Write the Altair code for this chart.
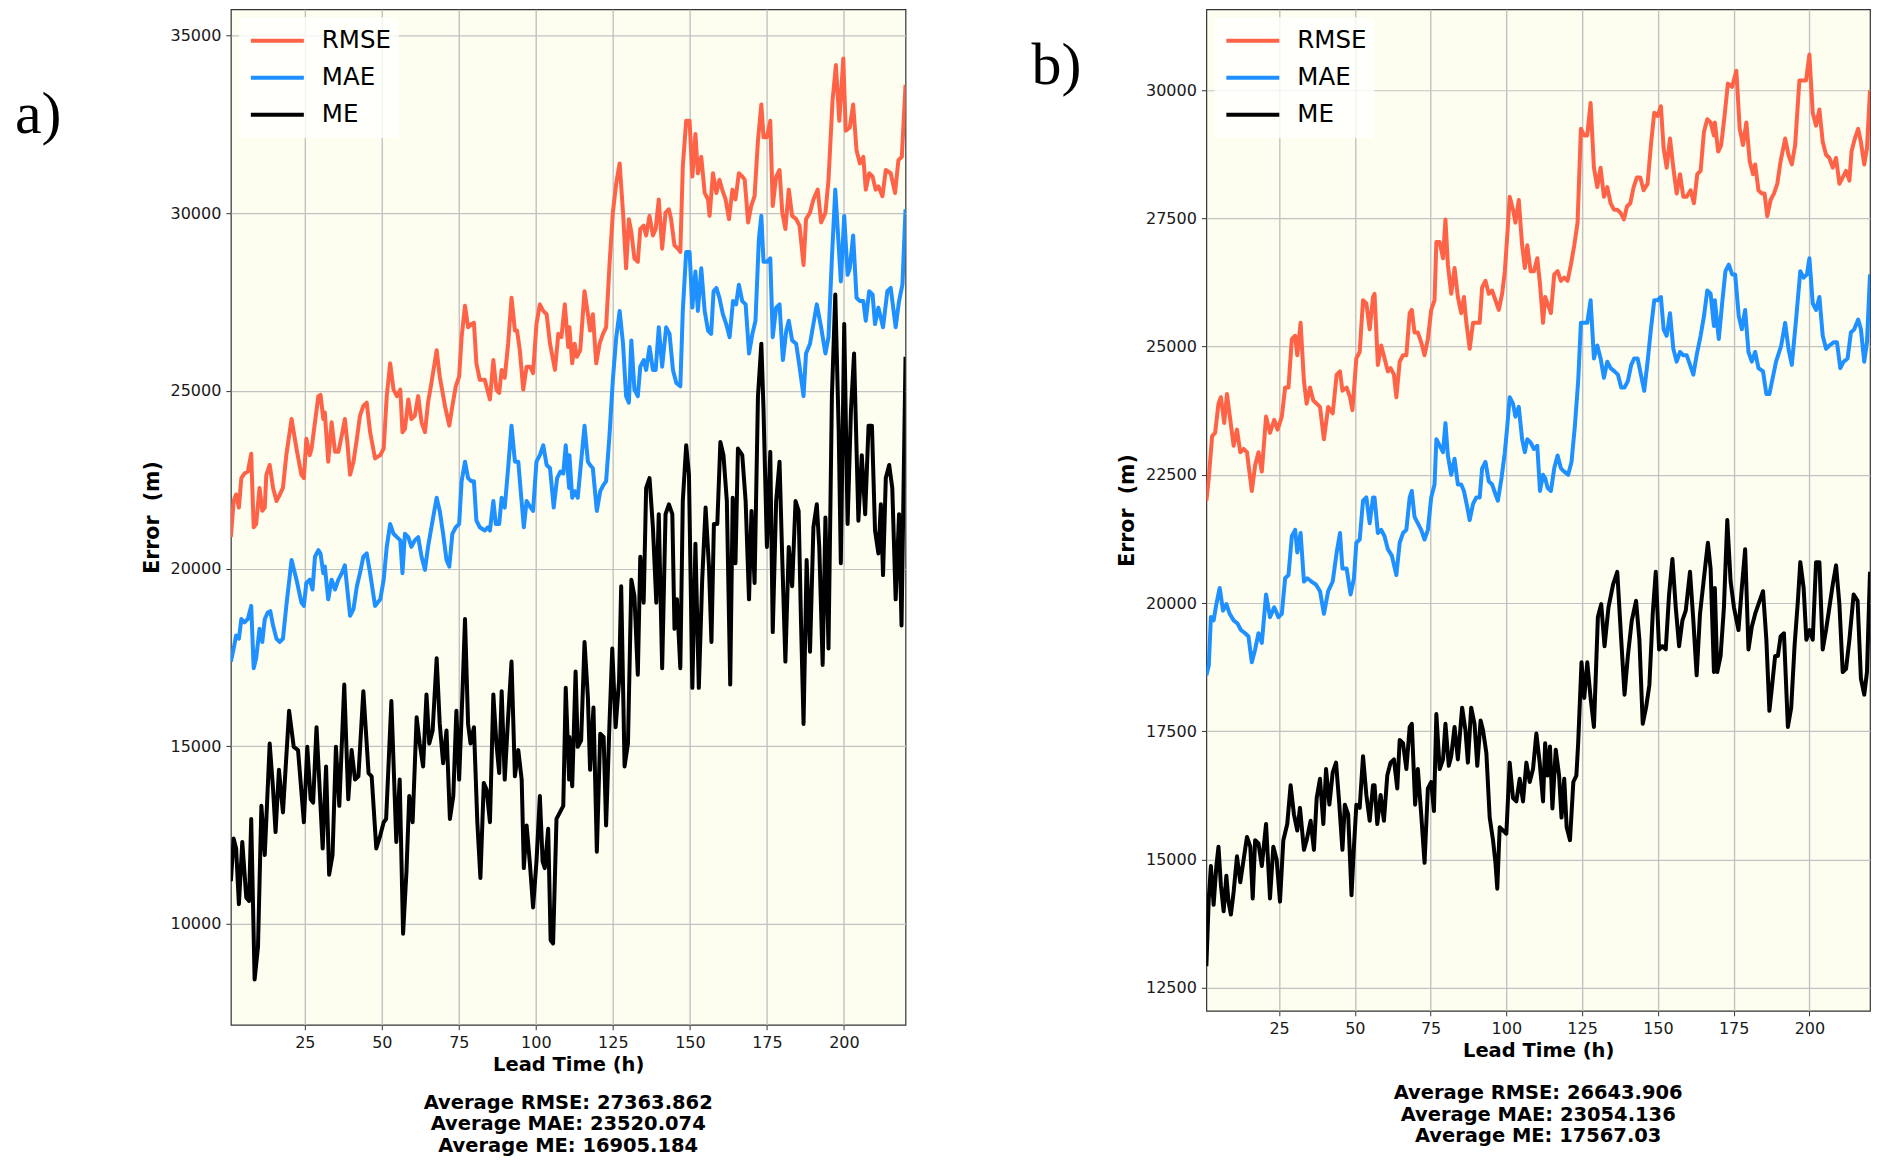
import altair as alt
import pandas as pd

# ---------------- data ----------------
SERIES = ["RMSE", "MAE", "ME"]
COLORS = ["#FF6347", "#1E90FF", "#000000"]
X_TICKS = [25, 50, 75, 100, 125, 150, 175, 200]
X_DOMAIN = [1, 220]
A_Y_TICKS = [10000, 15000, 20000, 25000, 30000, 35000]
B_Y_TICKS = [12500, 15000, 17500, 20000, 22500, 25000, 27500, 30000]
A_Y_DOMAIN = [7160, 35740]
B_Y_DOMAIN = [12050, 31575]
A_AVG = ["Average RMSE: 27363.862", "Average MAE: 23520.074", "Average ME: 16905.184"]
B_AVG = ["Average RMSE: 26643.906", "Average MAE: 23054.136", "Average ME: 17567.03"]

# ---- panel a ----
A_RMSE_T = [1.0,1.9,2.7,3.6,4.4,5.4,6.5,7.6,8.4,9.2,10.3,11.2,12.0,12.5,13.6,14.7,15.8,16.9,17.9,19.0,
            20.7,22.3,23.9,24.7,25.5,26.6,27.2,28.3,29.4,30.1,31.0,31.5,32.6,33.7,34.8,35.9,37.0,38.0,38.8,39.7,
            40.8,41.9,42.9,44.0,45.1,46.2,47.8,49.5,50.6,51.6,52.7,53.8,54.9,56.0,
            56.7,57.5,58.6,59.6,60.7,61.8,62.9,64.0,65.0,66.1,67.8,68.8,70.5,71.9,72.9,74.0,75.1,75.9,77.0,78.0,
            79.1,79.9,80.7,81.8,83.4,85.1,86.2,87.2,88.1,88.9,89.9,91.0,92.1,93.2,93.9,94.8,95.9,97.0,98.1,99.1,
            100.2,101.3,102.4,103.5,104.6,106.2,107.3,108.3,109.4,110.5,
            110.9,111.8,112.6,113.3,114.4,115.8,116.9,117.6,118.5,119.6,120.7,121.8,122.8,123.9,125.0,126.1,127.2,128.3,129.3,130.2,
            131.0,132.0,133.1,133.9,135.0,135.8,136.9,138.0,138.9,139.9,141.0,142.1,143.2,143.9,145.0,146.1,146.9,147.7,148.8,149.9,
            150.8,151.8,152.6,153.7,154.8,155.9,156.4,157.5,158.6,159.6,160.5,161.6,162.7,163.8,164.8,165.9,
            167.0,167.8,168.9,169.9,171.0,172.1,173.2,173.9,175.0,176.1,176.9,178.0,179.1,180.0,181.0,182.1,183.2,184.5,185.6,186.9,
            187.7,189.0,190.1,191.5,192.6,194.0,195.0,196.3,197.4,198.5,199.8,200.6,201.9,203.0,204.1,205.2,206.3,207.1,208.2,209.3,
            210.3,211.2,212.5,213.6,215.2,216.6,217.7,218.8,220.0]
A_RMSE_V = [20886,21900,22085,21716,22546,22675,22731,23229,21162,21255,22270,21624,21716,22639,22915,22270,21900,22085,22270,23192,
            24207,23377,22639,22546,23653,23192,23377,24115,24853,24889,24207,24391,23008,24115,23285,23285,23746,24207,23561,22639,
            23008,23654,24299,24576,24668,23838,23100,23192,23377,24853,25775,25037,24853,25037,
            23838,23930,24760,24207,24299,24853,24115,23838,24668,25222,26144,25406,24576,24022,24576,25129,25406,26513,27398,26790,
            26882,26919,25775,25314,25314,24760,25867,25037,24945,25591,25369,26329,27620,26698,26698,26144,25037,25683,25683,25498,
            26882,27436,27251,27159,26329,25591,26606,26513,27436,26237,
            26790,25775,26329,25960,26144,27805,27159,26698,27159,25775,26329,26606,26790,28543,30019,30849,31402,30019,28450,29834,
            29465,28727,28635,29558,29650,29373,29926,29373,29558,30388,29004,30019,30111,29834,29096,29004,28912,31310,32602,32602,
            31033,32232,31125,31587,30572,30388,29926,31125,30572,30941,30665,30388,29834,30665,30388,31125,
            31033,30941,29742,30203,30480,32048,33063,32140,32140,32602,30203,31033,31218,30019,29558,30665,29926,29834,29650,28543,
            29834,30019,30388,30665,29742,30019,30941,33155,34170,32602,34354,32325,32417,33063,31772,31402,31587,30665,31125,31033,
            30665,30757,30480,31218,31125,30572,31495,31587,33616]

A_MAE_T = [1.0,1.9,2.7,3.6,4.4,5.4,6.5,7.6,8.4,9.2,10.3,11.2,12.0,13.0,13.8,14.7,15.8,16.9,17.9,19.0,
           20.7,22.3,23.9,24.7,25.5,26.6,27.5,28.3,29.4,30.1,31.0,31.5,32.6,33.7,34.8,35.9,37.0,38.0,38.8,39.7,
           40.8,41.9,42.9,44.0,45.1,46.2,47.8,49.5,50.6,51.6,52.7,53.8,54.9,56.0,
           56.7,57.5,58.6,59.6,60.7,61.8,62.9,64.0,65.0,66.1,67.8,68.8,69.9,71.0,71.9,72.9,74.0,75.1,75.9,77.0,
           78.0,79.1,79.9,80.7,81.8,83.4,84.5,85.1,86.2,87.0,88.1,88.9,89.9,91.0,92.1,93.2,94.3,95.0,96.1,97.0,
           98.3,99.1,100.2,101.3,102.4,103.5,104.6,105.8,106.9,108.0,108.9,109.7,110.8,
           110.9,111.8,112.6,113.6,114.7,115.8,116.9,117.6,118.5,119.8,120.9,122.0,122.8,123.9,125.0,126.1,127.2,128.3,129.3,130.2,
           131.0,132.0,133.1,133.9,135.0,135.8,136.9,138.0,138.9,139.9,141.0,142.3,143.4,144.5,145.6,146.9,147.7,148.8,149.9,150.8,
           151.8,152.6,153.7,154.8,155.9,156.9,157.7,158.6,159.6,160.7,161.8,162.9,164.0,165.0,165.9,
           167.0,168.1,169.2,170.3,171.3,172.4,173.2,173.9,175.0,176.1,176.9,178.0,179.1,180.2,181.3,182.1,183.2,184.5,185.6,186.9,
           187.7,189.0,190.1,191.2,192.6,194.0,195.0,196.1,197.2,198.3,199.0,200.1,201.2,201.9,203.0,204.1,205.2,206.3,207.1,208.2,
           209.3,210.1,211.2,212.7,214.1,215.2,216.8,217.9,219.0,220.0]
A_MAE_V = [17380,17749,18118,18026,18580,18488,18580,18949,17196,17473,18303,17934,18580,18765,18801,18395,18026,17934,18026,18949,
           20240,19687,19041,18949,19594,19687,19410,20332,20517,20424,19871,20056,19133,19687,19410,19687,19871,20093,19410,18672,
           18857,19502,19871,20332,20424,19871,18949,19133,19687,20609,21254,20978,20885,20793,
           19871,20978,20885,20609,20793,20885,20332,19963,20609,21162,21993,21623,20978,20240,20056,20978,21162,21254,22454,23008,
           22546,22454,22454,21347,21162,21070,21162,21070,21900,21254,21254,21993,21716,22823,24022,23008,23008,22270,21162,21900,
           21716,21624,23008,23192,23469,22915,22823,21716,22546,22731,22675,23469,22270,
           23192,21993,22177,21993,23008,24022,23008,22915,22823,21623,22177,22362,22454,23746,25314,26513,27251,26329,24853,24668,
           26421,25037,24853,25683,25867,25591,26237,25591,25591,26790,25683,26790,26606,25591,25222,25129,27251,28912,28912,27344,
           28358,27251,28450,27251,26698,26606,27805,27897,27620,27159,26882,26513,27528,27436,27990,
           27528,27436,26052,26606,26975,29281,29926,28635,28635,28727,26513,27344,27436,25868,26698,26975,26421,26329,25683,24853,
           26052,26329,26882,27436,26790,26052,26513,28727,30665,29096,28081,29926,28266,28451,29373,27620,27528,27528,26975,27805,
           27713,26882,27344,26790,27805,27897,26790,27528,27990,30111]

A_ME_T = [1.0,1.9,2.7,3.6,4.7,6.0,6.9,7.6,8.7,9.8,10.9,12.0,13.6,14.7,15.5,16.6,17.9,19.9,21.4,22.8,
          24.7,25.8,26.9,27.7,28.8,30.8,31.9,32.9,34.0,35.1,36.2,37.8,39.1,40.2,41.3,42.4,44.0,45.7,46.7,48.2,
          49.5,50.6,51.4,53.1,54.7,55.8,
          56.9,58.0,58.9,60.0,61.3,62.3,63.4,64.5,65.4,66.5,67.8,68.8,69.9,71.0,72.1,73.2,74.2,75.1,76.2,77.0,
          78.0,78.8,79.9,81.0,82.0,83.1,84.0,85.1,86.2,87.2,88.1,88.9,89.9,91.0,92.1,93.2,94.3,95.4,96.1,97.0,
          98.1,99.1,100.2,101.3,102.2,102.9,104.0,104.8,105.6,106.7,107.8,108.9,109.7,110.8,
          110.9,111.8,112.9,113.6,114.7,115.8,116.9,117.6,118.7,119.8,120.9,122.0,122.8,123.9,124.8,125.9,127.0,127.7,128.8,129.9,
          131.0,132.0,133.1,133.9,135.0,135.8,136.9,138.0,139.1,139.9,141.0,142.1,143.2,144.3,145.0,145.8,146.9,147.7,148.8,149.7,
          150.8,151.8,152.9,154.0,155.1,156.2,157.0,157.8,158.9,159.9,160.9,162.0,163.1,163.9,164.8,165.6,
          167.0,168.1,169.2,170.0,171.0,172.1,173.2,173.9,175.0,176.1,176.9,178.0,179.1,180.0,181.0,182.1,183.2,184.3,185.3,186.1,
          186.9,187.9,189.0,190.1,191.2,192.0,193.1,194.0,195.0,196.1,197.2,198.3,199.0,200.1,201.2,202.3,203.3,204.7,205.8,206.9,
          208.0,209.1,210.1,211.2,212.0,212.7,213.6,214.7,215.7,216.8,217.9,218.7,220.0]
A_ME_V = [11200,12399,12122,10554,12307,10738,10646,12952,8432,9355,13321,11938,15074,13783,12584,14336,13137,15997,14982,14890,
          12860,14982,13506,13414,15536,12122,14428,11384,11938,14982,13321,16734,13506,14890,14060,14152,16550,14244,14152,12122,
          12491,12860,12952,16273,12307,14060,
          9723,11476,13598,12860,15812,15074,14428,16458,15074,15443,17473,15628,14521,15443,12953,13598,15997,14060,16550,18580,
          15628,15074,15536,12860,11292,13967,13783,12860,16458,15074,14244,16550,14060,15812,17381,14152,14890,14060,11569,12768,
          11661,10461,11753,13598,11753,11569,12676,9539,9447,12953,13137,13321,16642,14060,
          15259,13875,17104,14982,15167,17934,16365,14336,16089,12030,15351,15259,12768,15628,17749,15536,16827,19502,14428,15074,
          19687,19226,17012,20332,19041,22270,22546,21162,19041,21531,17197,21531,21808,21531,18303,19133,17197,21900,23469,22639,
          16642,20701,16642,19687,21716,20056,17934,21254,21254,23561,23192,21900,16734,21993,20148,23377,
          23192,21900,19133,21623,19595,24853,26329,24484,20609,23284,18211,21900,23008,20240,17381,20609,19502,21900,21623,18395,
          15628,20240,17658,21162,21808,20609,17289,21439,17750,24853,27712,23930,20148,26883,21254,24484,26052,21347,23192,21531,
          24022,24022,21070,20425,21808,19816,22546,22915,22270,19133,21531,18395,25960]

# ---- panel b ----
B_RMSE_T = [1.0,1.8,2.9,3.9,5.0,5.8,6.9,7.8,8.9,10.0,11.1,12.2,13.3,14.4,16.0,17.1,18.2,19.3,20.7,22.0,
            23.4,24.5,25.9,27.0,28.1,29.2,30.3,31.0,32.1,33.2,34.1,35.2,36.3,37.4,38.5,39.8,41.2,42.7,44.0,45.1,
            45.9,47.3,48.4,49.2,50.5,51.6,52.7,53.8,54.9,56.0,
            56.5,57.6,58.7,59.8,60.9,61.8,62.9,63.7,64.8,65.9,67.0,68.1,68.8,69.7,70.8,71.9,73.0,74.1,75.2,76.3,
            76.9,78.0,79.1,79.9,80.7,81.8,82.9,84.0,85.1,86.0,86.8,87.9,89.0,90.1,91.2,92.0,93.1,94.2,95.3,96.4,
            97.5,98.6,99.5,100.3,101.1,102.2,103.0,104.1,105.2,106.1,106.9,108.0,109.1,110.2,111.1,112.1,
            112.8,113.6,114.7,115.8,116.9,118.0,119.1,120.2,121.3,122.4,123.5,124.6,125.7,126.7,127.8,128.9,130.0,131.1,132.2,133.3,
            134.4,135.5,136.6,137.7,138.8,139.8,140.9,142.0,143.1,144.2,145.3,146.6,147.7,148.8,149.9,151.0,151.9,152.9,154.0,155.1,
            156.2,157.3,158.4,159.5,160.8,161.9,163.0,164.1,165.2,166.3,167.4,168.5,
            168.8,169.9,170.9,172.0,173.1,174.5,175.9,177.0,178.1,179.2,180.3,181.4,182.1,183.2,184.3,185.2,186.1,187.2,188.3,189.4,
            190.5,192.0,193.1,194.2,195.3,196.7,197.8,198.9,200.0,201.1,202.2,203.3,204.4,205.5,206.6,207.7,208.8,209.9,211.0,212.1,
            213.2,213.9,215.0,216.1,217.0,218.1,219.0,220.0]
B_RMSE_V = [21994,22436,23255,23318,23886,24012,23508,24075,23570,23066,23381,22940,23003,22940,22184,22688,22940,22562,23634,23318,
            23570,23381,23634,24201,24201,25146,25210,24831,25462,24327,23886,24201,23949,23886,23823,23192,23823,23697,24453,24516,
            24138,24201,24012,23760,24768,24894,25903,25840,25335,25966,
            26029,24642,25020,24768,24516,24579,24453,24012,24705,24831,24831,25651,25714,25273,25273,25083,24831,25146,25714,25903,
            27037,27037,26722,27479,26596,26029,26533,25966,25651,25966,25462,24957,25462,25462,25462,26155,26281,26029,26092,25903,
            25714,26029,26470,27163,27920,27668,27416,27857,26974,26533,26974,26470,26470,26722,26218,25462,
            25966,25840,25651,26407,26470,26281,26344,26281,26596,26974,27416,29244,29117,29117,29748,28487,28109,28487,27920,28109,
            27794,27668,27668,27605,27479,27731,27794,28109,28298,28298,28046,28172,28928,29559,29496,29685,28865,28487,29055,28487,
            27983,28361,27920,27920,28046,27794,28361,28424,29181,29433,29370,29117,
            29370,28802,28928,29496,30126,30063,30378,29244,28928,29370,28613,28361,28550,28046,27983,27983,27542,27857,27983,28172,
            28613,29055,28739,28550,28928,30189,30189,30189,30693,29559,29307,29622,28991,28739,28676,28487,28676,28172,28298,28424,
            28235,28802,29055,29244,28991,28550,28865,30000]

B_MAE_T = [1.0,1.8,2.5,3.4,4.3,5.4,6.5,7.6,8.7,10.0,11.3,12.4,13.8,14.9,16.0,17.1,18.2,19.3,20.7,22.0,
           23.4,24.8,25.9,27.0,28.1,29.2,30.3,31.0,32.1,33.2,34.3,35.7,37.2,38.5,39.8,41.2,42.7,44.0,45.1,45.9,
           47.3,48.6,49.7,50.5,51.6,52.7,53.8,54.9,56.0,
           56.5,57.6,58.7,59.8,60.9,62.2,63.7,64.8,65.9,67.0,68.1,68.8,69.7,70.8,71.9,73.0,74.1,75.2,76.3,76.9,
           78.0,79.1,79.9,80.7,81.8,82.9,84.0,85.1,86.0,87.1,87.9,89.0,90.1,91.2,92.0,93.1,94.2,95.3,96.4,97.2,
           98.4,99.5,100.3,101.1,102.2,103.0,104.1,105.2,106.1,106.9,108.0,109.1,110.2,111.1,112.1,
           112.8,113.6,114.7,115.8,116.9,118.0,119.1,120.4,121.5,122.6,123.7,124.6,125.7,126.7,127.8,128.9,130.0,131.1,132.2,133.3,
           134.4,135.7,136.8,137.9,139.0,140.1,141.2,142.2,143.3,144.4,145.5,146.6,147.7,148.8,149.9,151.0,151.9,152.9,154.0,155.1,
           156.2,157.3,158.4,159.5,160.6,161.7,162.8,164.1,165.2,166.3,167.4,168.5,
           168.8,170.1,171.2,172.3,173.4,174.5,175.5,176.7,177.7,178.8,179.9,181.0,182.1,183.2,184.7,185.8,186.8,187.9,189.0,190.7,
           192.0,193.1,194.2,195.6,197.0,198.1,199.2,200.0,201.1,202.2,203.3,204.4,205.5,206.6,208.0,209.1,210.2,211.3,212.6,213.7,
           214.8,216.1,217.0,218.1,219.0,220.0]
B_MAE_V = [18591,18780,19725,19662,19978,20293,19851,19978,19789,19662,19599,19473,19410,19347,18843,19095,19410,19221,20167,19725,
           19915,19725,19789,20482,20545,21301,21427,20986,21364,20419,20482,20419,20356,20230,19789,20230,20419,20986,21364,20671,
           20671,20167,20482,21175,21238,21994,22058,21553,22058,
           22058,21364,21427,21301,21049,20923,20545,21175,21364,21427,22058,22184,21679,21553,21427,21238,21427,22058,22310,23192,
           23066,22940,23507,22877,22499,22814,22310,22310,22184,21868,21616,21931,22058,22058,22625,22751,22373,22310,22121,21994,
           22436,22940,23444,24012,23886,23634,23823,23192,22940,23192,23129,23003,23066,22184,22499,
           22436,22247,22184,22625,22877,22625,22562,22499,22751,23444,24327,25462,25462,25462,25903,24768,25020,24768,24390,24705,
           24579,24516,24453,24201,24201,24327,24642,24768,24768,24453,24138,24705,25336,25903,25903,25966,25336,25210,25651,24957,
           24705,24894,24831,24831,24642,24453,24831,25210,25588,26092,26029,25399,
           25903,25146,25840,26470,26596,26407,26407,25588,25336,25714,24894,24705,24894,24579,24516,24075,24075,24390,24705,25020,
           25462,24957,24642,25525,26470,26344,26407,26722,25840,25714,25966,25210,24957,25020,25083,25083,24579,24705,24768,25273,
           25336,25525,25336,24705,25083,26407]

B_ME_T = [1.0,1.8,2.5,3.4,4.3,5.0,5.8,6.7,7.6,8.3,9.1,10.0,11.1,12.2,13.3,14.4,15.5,16.3,17.1,18.2,
          19.3,20.7,22.0,23.1,24.2,25.3,26.4,27.7,28.8,29.9,31.0,31.9,33.2,34.1,35.4,36.5,37.4,38.5,39.6,40.5,
          41.6,42.7,43.8,44.8,45.9,46.7,47.8,48.9,49.7,50.5,51.6,52.7,53.8,54.9,56.0,
          56.5,57.4,58.5,59.6,60.7,61.8,62.9,64.0,64.8,65.9,67.0,68.1,68.8,69.9,70.8,71.9,73.0,74.1,75.2,76.1,
          76.9,78.0,79.1,79.9,81.0,81.8,82.9,84.0,85.4,86.5,87.3,88.4,89.5,90.4,91.5,92.3,93.4,94.5,95.6,96.4,
          97.0,97.8,98.9,100.0,101.1,102.2,103.3,104.4,105.5,106.6,107.7,108.8,109.9,111.0,112.1,
          112.8,113.6,114.4,115.2,116.3,117.4,118.2,119.1,119.9,121.0,122.1,123.1,123.7,124.8,125.7,126.7,127.8,128.9,130.2,131.3,
          132.4,133.7,135.2,136.6,137.9,139.0,140.1,141.4,142.8,143.9,145.0,146.1,147.2,148.3,149.3,150.4,151.5,152.6,153.7,154.8,
          155.9,157.0,158.1,159.2,160.6,161.7,162.8,163.9,165.2,166.5,167.4,168.5,
          168.8,169.6,170.7,171.8,172.9,174.0,175.1,176.6,177.7,178.8,179.9,181.0,182.1,183.2,184.7,185.8,186.8,187.6,188.7,189.6,
          190.5,191.6,192.9,194.0,195.1,196.2,197.0,198.1,199.0,200.1,201.1,202.2,203.3,204.4,205.5,206.6,207.7,208.8,209.9,211.0,
          212.1,213.2,214.6,215.9,217.0,218.1,219.0,220.0]
B_ME_V = [12918,14241,14872,14115,14872,15250,14494,13989,14683,14178,13926,14367,15061,14557,14998,15439,15250,14241,15376,15313,
          14872,15691,14241,15250,14998,14178,15376,15691,16447,15880,15565,16006,15187,15376,15754,15187,16195,16573,15691,16762,
          16069,16699,16888,16132,15187,16069,15880,14304,15250,16069,16006,17014,16258,15754,16447,
          16447,15691,16258,15754,16636,16888,16951,16384,17329,17266,16762,17582,17645,16069,16762,15880,14935,16384,16510,15943,
          17834,16762,16951,17645,16825,17014,17582,16951,17960,17519,16888,17960,17645,16825,17708,17519,17077,15817,15376,14935,
          14430,15628,15565,15502,16888,16195,16132,16573,16132,16888,16510,16762,17456,16888,16132,
          17266,16636,17203,15994,17140,16636,15817,16573,15628,15376,16510,16636,17266,18843,18150,18843,18150,17582,19725,19978,
          19158,19915,20356,20608,19284,18213,18969,19662,20041,19284,17645,17960,18402,19788,20608,19095,19158,19095,20167,20860,
          19915,19158,19662,19851,20608,19662,18591,19788,20482,21175,20671,18654,
          20293,18654,18969,19915,21616,20419,19915,19473,20293,21049,19095,19536,19788,19978,20230,19284,17897,18339,18969,18969,
          19347,19410,17582,17960,19158,20041,20797,20293,19284,19473,19284,20797,20797,19095,19473,19915,20356,20734,19978,18654,
          18717,19284,20167,20041,18528,18213,18654,20608]


def long_frame(series):
    rows = []
    for name, ts, vs in series:
        for t, v in zip(ts, vs):
            rows.append({"Lead Time": t, "Error": v, "Metric": name})
    return pd.DataFrame(rows)


df_a = long_frame([("RMSE", A_RMSE_T, A_RMSE_V), ("MAE", A_MAE_T, A_MAE_V), ("ME", A_ME_T, A_ME_V)])
df_b = long_frame([("RMSE", B_RMSE_T, B_RMSE_V), ("MAE", B_MAE_T, B_MAE_V), ("ME", B_ME_T, B_ME_V)])

FONT = "DejaVu Sans"


def panel(df, ydom, yticks, w, h, avg, avg_offset):
    legend = alt.Legend(
        title=None, orient="top-left", offset=8, padding=7,
        symbolType="stroke", symbolSize=2809, symbolStrokeWidth=4, symbolOffset=3,
        labelOffset=16, clipHeight=33, rowPadding=4,
        labelFont=FONT, labelFontSize=24.5, labelColor="black",
        fillColor="rgba(255,255,255,0.8)", cornerRadius=4,
    )
    return alt.Chart(df).mark_line(strokeWidth=4, clip=True, strokeJoin="round").encode(
        x=alt.X("Lead Time:Q",
                scale=alt.Scale(domain=X_DOMAIN, nice=False, zero=False),
                axis=alt.Axis(values=X_TICKS, format="d", title="Lead Time (h)",
                              labelFont=FONT, labelFontSize=16, labelColor="#1a1a1a", labelPadding=5,
                              titleFont=FONT, titleFontSize=19.5, titleFontWeight="bold", titleColor="black",
                              titlePadding=5, tickSize=5, tickColor="#333333", domain=False,
                              grid=True, gridColor="#c2c2c2", gridWidth=1.4)),
        y=alt.Y("Error:Q",
                scale=alt.Scale(domain=ydom, nice=False, zero=False),
                axis=alt.Axis(values=yticks, format="d", title="Error\u00a0 (m)",
                              labelFont=FONT, labelFontSize=16, labelColor="#1a1a1a", labelPadding=5,
                              titleFont=FONT, titleFontSize=20.5, titleFontWeight="bold", titleColor="black",
                              titlePadding=8, tickSize=5, tickColor="#333333", domain=False,
                              grid=True, gridColor="#c2c2c2", gridWidth=1.2)),
        color=alt.Color("Metric:N", scale=alt.Scale(domain=SERIES, range=COLORS), legend=legend),
    ).properties(
        width=w, height=h,
        view=alt.ViewBackground(fill="#FEFEF0", stroke="#333333", strokeWidth=1.2),
        title=alt.TitleParams(text=avg, orient="bottom", anchor="middle", frame="group",
                              font=FONT, fontSize=19.5, fontWeight="bold", color="black",
                              lineHeight=21.3, offset=avg_offset),
    )


def tag(label, w, h, x, y):
    return alt.Chart(pd.DataFrame({"tag": [label]})).mark_text(
        font="Liberation Serif", fontSize=60, align="left", baseline="alphabetic", color="black"
    ).encode(x=alt.value(x), y=alt.value(y), text="tag:N").properties(width=w, height=h)


# the page must stay inside 1879 x 1166 (8px body margin on each side)
pa = panel(df_a, A_Y_DOMAIN, A_Y_TICKS, 675, 1016, A_AVG, 20)
pb = panel(df_b, B_Y_DOMAIN, B_Y_TICKS, 664, 1002, B_AVG, 24)
ta = tag("a)", 223, 1016, 7, 124)
tb = tag("b)", 301, 1002, 126, 75)

chart = alt.hconcat(ta, pa, tb, pb, spacing=0, bounds="flush").resolve_scale(
    color="independent"
).properties(padding=0).configure(background="white", font=FONT).configure_view(strokeWidth=0)

chart.save("out.html", embed_options={"renderer": "svg", "actions": False})
